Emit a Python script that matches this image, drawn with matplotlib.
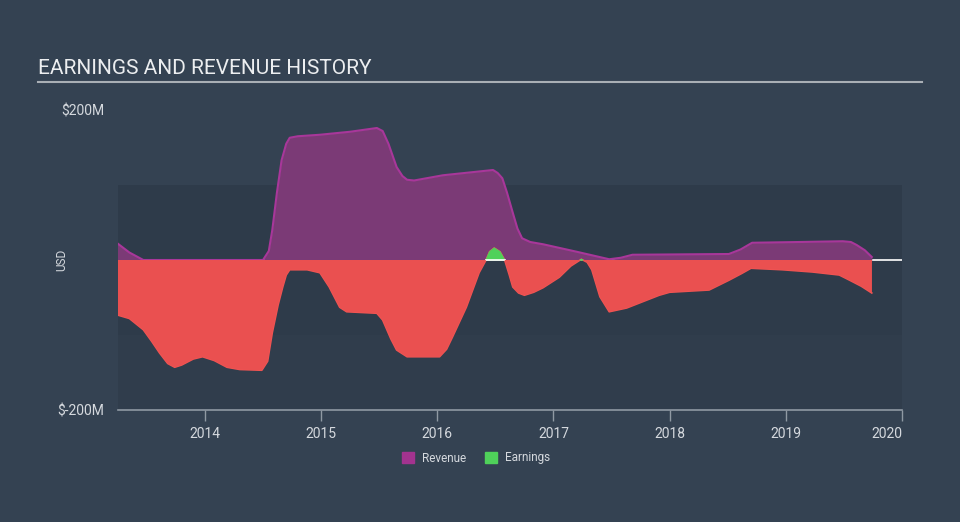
import matplotlib.pyplot as plt
from matplotlib.patches import Patch

# values (year, USD millions)
rev_years = [2013.24, 2013.35, 2013.47, 2014.50, 2014.55, 2014.58, 2014.62, 2014.66, 2014.70, 2014.73,
             2014.80, 2014.99, 2015.25, 2015.48, 2015.53, 2015.58, 2015.65, 2015.70, 2015.74, 2015.80,
             2016.05, 2016.48, 2016.52, 2016.56, 2016.60, 2016.65, 2016.69, 2016.73, 2016.80, 2016.91,
             2017.20, 2017.48, 2017.58, 2017.68, 2018.51, 2018.61, 2018.71, 2019.12, 2019.49, 2019.56,
             2019.61, 2019.68, 2019.74]
revenue = [23, 10, 0, 0, 12, 40, 90, 133, 155, 163,
           165, 167, 171, 176, 172, 155, 124, 112, 107, 106,
           113, 120, 116, 109, 90, 63, 42, 29, 24, 21,
           11, 1, 3, 7, 8, 14, 23, 24, 25, 24,
           20, 13, 4]

earn_years = [2013.24, 2013.35, 2013.47, 2013.54, 2013.61, 2013.68, 2013.74, 2013.80, 2013.90, 2013.98,
              2014.08, 2014.19, 2014.30, 2014.49, 2014.54, 2014.58, 2014.63, 2014.67, 2014.70, 2014.73,
              2014.88, 2014.99, 2015.07, 2015.16, 2015.22, 2015.48, 2015.53, 2015.60, 2015.65, 2015.74,
              2016.02, 2016.08, 2016.13, 2016.25, 2016.36, 2016.42, 2016.45, 2016.49, 2016.54, 2016.58,
              2016.62, 2016.65, 2016.70, 2016.75, 2016.83, 2016.91, 2017.05, 2017.15, 2017.24, 2017.29,
              2017.33, 2017.40, 2017.48, 2017.63, 2017.91, 2018.00, 2018.34, 2018.51, 2018.62, 2018.70,
              2018.97, 2019.23, 2019.46, 2019.55, 2019.65, 2019.74]
earnings = [-73, -78, -93, -108, -124, -138, -143, -140, -132, -129,
            -134, -143, -146, -147, -135, -97, -60, -36, -20, -13,
            -13, -17, -36, -63, -69, -71, -80, -105, -120, -129,
            -129, -119, -103, -63, -17, 0, 11, 16, 11, 0,
            -20, -36, -44, -47, -43, -37, -23, -8, 1, -3,
            -13, -49, -69, -64, -47, -43, -40, -27, -18, -11,
            -13, -16, -20, -27, -35, -44]

year_ticks = [2014, 2015, 2016, 2017, 2018, 2019, 2020]

bg = '#344252'
band = '#2e3b4a'
low_band = '#303d4c'
text_col = '#d5d9de'

plt.rcParams['font.family'] = ['Roboto', 'DejaVu Sans']

fig = plt.figure(figsize=(9.6, 5.22), dpi=100, facecolor=bg)
ax = fig.add_axes([118 / 960, 112 / 522, 784 / 960, 300 / 522], facecolor=bg)
ax.set_xlim(2013.252, 2020.0)
ax.set_ylim(-200, 200)

ax.axhspan(-100, 100, color=band, zorder=0, lw=0)
ax.axhspan(-200, -100, color=low_band, zorder=0, lw=0)
ax.axhline(0, color='white', lw=1.2, zorder=1)

ax.fill_between(rev_years, revenue, 0, color='#7b3a76', lw=0, zorder=2)
ax.plot(rev_years, revenue, color='#a8379a', lw=1.5, zorder=3)

ax.fill_between(earn_years, earnings, 0, where=[e <= 0 for e in earnings], interpolate=True,
                color='#ea5050', lw=0, zorder=4)
ax.plot(earn_years, earnings, color='#f25553', lw=1.2, zorder=5)
# green part sits on top so it has no red edge
ax.fill_between(earn_years, earnings, 0, where=[e >= 0 for e in earnings], interpolate=True,
                color='#4fd15a', lw=0.8, edgecolor='#4fd15a', zorder=6)
ax.plot([2016.42, 2016.58], [0, 0], color='white', lw=1.2, zorder=6.5)
ax.fill_between(earn_years, earnings, 0, where=[e <= 0 for e in earnings], interpolate=True,
                color='#ea5050', lw=0, zorder=7)

for s in ['top', 'right', 'left']:
    ax.spines[s].set_visible(False)
ax.spines['bottom'].set_color('#8f99a3')
ax.spines['bottom'].set_linewidth(1.2)

ax.set_yticks([-200, 200])
ax.set_yticklabels(['$-200M', '$200M'])
ax.tick_params(axis='y', length=0, pad=10, labelsize=10, labelcolor=text_col)
ax.set_xticks(year_ticks)
ax.set_xticklabels([str(y) for y in year_ticks])
ax.tick_params(axis='x', length=8, width=1, color='#8f99a3', pad=4, labelsize=10, labelcolor=text_col)
ax.get_xticklabels()[-1].set_horizontalalignment('right')

fig.text(62 / 960, 1 - 260 / 522, 'USD', rotation=90, ha='center', va='center', color=text_col, fontsize=8.5)

fig.text(38 / 960, 1 - 69 / 522, 'EARNINGS AND REVENUE HISTORY', ha='left', va='center',
         color='#eceef0', fontsize=15)
fig.add_artist(plt.Line2D([38 / 960, 922 / 960], [1 - 82 / 522, 1 - 82 / 522], color='#a9afb5', lw=1.5))

handles = [Patch(color='#a3338f', label='Revenue'), Patch(color='#4fd15a', label='Earnings')]
fig.legend(handles=handles, loc='center', bbox_to_anchor=(476 / 960, 1 - 458 / 522), ncol=2,
           frameon=False, fontsize=8.5, labelcolor=text_col, handlelength=1.0, handleheight=1.0,
           handletextpad=0.7, columnspacing=1.6)

fig.savefig('out.png', dpi=100, facecolor=bg)
